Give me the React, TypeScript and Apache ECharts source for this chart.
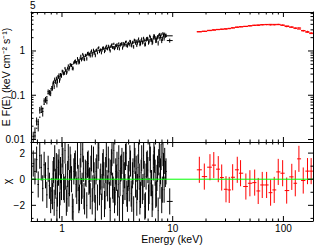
import React, { useEffect, useRef } from 'react';
import * as echarts from 'echarts';

// Axis ranges
const X_MIN = 0.525;
const X_MAX = 185;
const Y_MIN = 0.00878;
const Y_MAX = 7.6;
const CHI_MIN = -3.2;
const CHI_MAX = 2.85;
const CHI_ERR = 1; // delchi residual error bars are 1 sigma by definition

// Black (soft X-ray) spectrum, channel set A
const blackEnergyA = [
  0.55, 0.57, 0.59, 0.61, 0.63, 0.65, 0.67, 0.69, 0.71, 0.73, 0.75, 0.77, 0.79, 0.81, 0.83, 0.85, 0.87, 0.89, 0.91, 0.93, 0.95, 0.97, 0.99,
  1.02, 1.05, 1.08, 1.11, 1.14, 1.17, 1.2, 1.24, 1.28, 1.32, 1.36, 1.4, 1.44, 1.48, 1.52, 1.56, 1.6, 1.65, 1.7, 1.75, 1.8, 1.85, 1.9, 1.95, 2.0,
  2.06, 2.12, 2.18, 2.24, 2.3, 2.36, 2.42, 2.48, 2.55, 2.62, 2.69, 2.76, 2.83, 2.9, 2.98, 3.06, 3.14, 3.22, 3.3, 3.39, 3.48, 3.57, 3.66, 3.75, 3.85, 3.95,
  4.05, 4.16, 4.27, 4.38, 4.5, 4.62, 4.74, 4.86, 4.99, 5.12, 5.25, 5.39, 5.53, 5.67, 5.82, 5.97, 6.12, 6.28, 6.44, 6.6, 6.77, 6.94, 7.12, 7.3, 7.48, 7.67, 7.86, 8.06, 8.26, 8.47, 8.7,
  9.4,
];
const blackFluxA = [
  0.0118, 0.0145, 0.0261, 0.0222, 0.0464, 0.0491, 0.043, 0.0743, 0.0796, 0.0763, 0.12, 0.115, 0.112, 0.141, 0.184, 0.157, 0.202, 0.242, 0.208, 0.259, 0.215, 0.293, 0.274,
  0.345, 0.314, 0.366, 0.339, 0.466, 0.42, 0.488, 0.408, 0.545, 0.603, 0.538, 0.615, 0.568, 0.772, 0.672, 0.777, 0.648, 0.805, 0.881, 0.827, 0.78, 1.015, 0.878, 0.973, 0.799,
  1.063, 1.149, 0.967, 1.075, 1.035, 1.2, 0.971, 1.196, 1.136, 1.304, 1.099, 1.263, 1.414, 1.18, 1.128, 1.344, 1.411, 1.283, 1.124, 1.426, 1.504, 1.302, 1.429, 1.589, 1.32, 1.46,
  1.388, 1.633, 1.32, 1.593, 1.774, 1.51, 1.352, 1.715, 1.646, 1.473, 1.886, 1.594, 1.758, 1.428, 1.912, 1.871, 1.636, 2.043, 1.781, 1.617, 2.243, 1.99, 1.719, 2.098, 2.213, 1.9, 2.363, 1.886, 2.288, 2.394, 2.258,
  1.72,
];
const blackFluxErrA = [
  0.0032, 0.0042, 0.0054, 0.007, 0.008, 0.009, 0.01, 0.0112, 0.0122, 0.014, 0.0151, 0.016, 0.0167, 0.0172, 0.0194, 0.0192, 0.0206, 0.022, 0.0234, 0.0223, 0.0236, 0.0248, 0.0261,
  0.0248, 0.0268, 0.0288, 0.0308, 0.0328, 0.0344, 0.0364, 0.0392, 0.0416, 0.044, 0.0464, 0.0488, 0.0512, 0.0536, 0.056, 0.0584, 0.06, 0.0624, 0.0648, 0.0672, 0.0696, 0.072, 0.0744, 0.076, 0.0776,
  0.07, 0.0714, 0.0728, 0.0742, 0.0756, 0.077, 0.0784, 0.0798, 0.0812, 0.0826, 0.084, 0.0854, 0.0868, 0.0875, 0.0889, 0.0903, 0.0917, 0.0924, 0.0938, 0.0945, 0.0959, 0.0973, 0.098, 0.0994, 0.1, 0.1015,
  0.118, 0.119, 0.12, 0.122, 0.123, 0.125, 0.126, 0.128, 0.13, 0.139, 0.141, 0.143, 0.145, 0.146, 0.157, 0.158, 0.16, 0.162, 0.165, 0.167, 0.178, 0.18, 0.182, 0.185, 0.187, 0.2, 0.202, 0.205, 0.208, 0.21, 0.213,
  0.18,
];
const blackModelA = [
  0.008, 0.012, 0.018, 0.025, 0.032, 0.041, 0.05, 0.062, 0.076, 0.093, 0.108, 0.123, 0.139, 0.156, 0.176, 0.192, 0.206, 0.22, 0.234, 0.248, 0.262, 0.276, 0.29,
  0.31, 0.335, 0.36, 0.385, 0.41, 0.43, 0.455, 0.49, 0.52, 0.55, 0.58, 0.61, 0.64, 0.67, 0.7, 0.73, 0.75, 0.78, 0.81, 0.84, 0.87, 0.9, 0.93, 0.95, 0.97,
  1.0, 1.02, 1.04, 1.06, 1.08, 1.1, 1.12, 1.14, 1.16, 1.18, 1.2, 1.22, 1.24, 1.25, 1.27, 1.29, 1.31, 1.32, 1.34, 1.35, 1.37, 1.39, 1.4, 1.42, 1.43, 1.45,
  1.47, 1.49, 1.5, 1.52, 1.54, 1.56, 1.58, 1.6, 1.62, 1.64, 1.66, 1.68, 1.7, 1.72, 1.74, 1.76, 1.78, 1.8, 1.83, 1.85, 1.87, 1.9, 1.92, 1.95, 1.97, 2.0, 2.02, 2.05, 2.08, 2.1, 2.13,
  2.2,
];
const blackChiA = [
  1.2, 0.6, 1.5, -0.4, 1.8, 0.9, -0.7, 1.1, 0.3, -1.2, 0.8, -0.5, -1.6, -0.9, 0.4, -1.8, -0.2, 1.0, -1.1, 0.5, -2.0, 0.7, -0.6,
  1.4, -0.8, 0.2, -1.5, 1.7, -0.3, 0.9, -2.1, 0.6, 1.2, -0.9, 0.1, -1.4, 1.9, -0.5, 0.8, -1.7, 0.4, 1.1, -0.2, -1.3, 1.6, -0.7, 0.3, -2.2,
  0.9, 1.8, -1.0, 0.2, -0.6, 1.3, -1.9, 0.7, -0.3, 1.5, -1.2, 0.5, 2.0, -0.8, -1.6, 0.6, 1.1, -0.4, -2.3, 0.8, 1.4, -0.9, 0.3, 1.7, -1.1, 0.1,
  -0.7, 1.2, -1.5, 0.6, 1.9, -0.4, -1.8, 0.9, 0.2, -1.2, 1.6, -0.6, 0.4, -2.0, 1.1, 0.7, -0.9, 1.5, -0.3, -1.4, 2.1, 0.5, -1.1, 0.8, 1.3, -0.5, 1.7, -0.8, 1.0, 1.4, 0.6,
  -1.7,
];

// Black spectrum, channel set B (interleaved channels above 0.8 keV)
const blackEnergyB = [
  0.82, 0.84, 0.86, 0.88, 0.9, 0.92, 0.94, 0.96, 0.98, 1.005,
  1.035, 1.065, 1.095, 1.125, 1.155, 1.185, 1.22, 1.26, 1.3, 1.34, 1.38, 1.42, 1.46, 1.5, 1.54, 1.58, 1.625, 1.675, 1.725, 1.775, 1.825, 1.875, 1.925, 1.975, 2.03,
  2.09, 2.15, 2.21, 2.27, 2.33, 2.39, 2.45, 2.515, 2.585, 2.655, 2.725, 2.795, 2.865, 2.94, 3.02, 3.1, 3.18, 3.26, 3.345, 3.435, 3.525, 3.615, 3.705, 3.8, 3.9, 4.0,
  4.105, 4.215, 4.325, 4.44, 4.56, 4.68, 4.8, 4.925, 5.055, 5.185, 5.32, 5.46, 5.6, 5.745, 5.895, 6.045, 6.2, 6.36, 6.52, 6.685, 6.855, 7.03, 7.21, 7.39, 7.575, 7.765, 7.96, 8.16, 8.365, 8.585,
];
const blackFluxB = [
  0.1444, 0.1969, 0.2308, 0.2024, 0.1725, 0.2627, 0.2882, 0.2421, 0.2887, 0.3513,
  0.3065, 0.4081, 0.3184, 0.4097, 0.383, 0.495, 0.472, 0.404, 0.5778, 0.5469, 0.6807, 0.545, 0.6864, 0.6357, 0.8466, 0.663, 0.7956, 0.6678, 0.9042, 0.8482, 0.9416, 0.7906, 1.0528, 0.8986, 1.0293,
  0.911, 1.203, 1.0353, 0.9127, 1.1663, 1.1333, 1.0272, 1.303, 1.1127, 1.24, 1.0067, 1.3419, 1.2014, 1.454, 1.1904, 1.3091, 1.1493, 1.479, 1.3168, 1.4457, 1.1675, 1.5024, 1.3508, 1.6245, 1.2888, 1.5038,
  1.6694, 1.3634, 1.5462, 1.2485, 1.7236, 1.6705, 1.5137, 1.8934, 1.4083, 1.7201, 1.5422, 1.9486, 1.4048, 1.7611, 1.939, 1.547, 2.1766, 1.766, 1.5254, 2.019, 2.1536, 1.6923, 1.9534, 1.5131, 2.3622, 2.1306, 1.7094, 2.478, 1.9228, 2.1996,
];
const blackFluxErrB = [
  0.0166, 0.0184, 0.0199, 0.0213, 0.0227, 0.0241, 0.0255, 0.0269, 0.0283, 0.027,
  0.0258, 0.0278, 0.0298, 0.0318, 0.0336, 0.0354, 0.0378, 0.0404, 0.0428, 0.0452, 0.0476, 0.05, 0.0524, 0.0548, 0.0572, 0.0592, 0.0612, 0.0636, 0.066, 0.0684, 0.0708, 0.0732, 0.0752, 0.0768, 0.0739,
  0.0707, 0.0721, 0.0735, 0.0749, 0.0763, 0.0777, 0.0791, 0.0805, 0.0819, 0.0833, 0.0847, 0.0861, 0.0872, 0.0882, 0.0896, 0.091, 0.0921, 0.0931, 0.0942, 0.0952, 0.0966, 0.0977, 0.0987, 0.0998, 0.1008, 0.1095,
  0.1184, 0.1196, 0.1208, 0.1224, 0.124, 0.1256, 0.1272, 0.1288, 0.1304, 0.1403, 0.142, 0.1437, 0.1454, 0.1557, 0.1575, 0.1593, 0.1611, 0.1634, 0.1656, 0.1767, 0.1791, 0.1815, 0.1838, 0.1862, 0.1985, 0.201, 0.2035, 0.2065, 0.209, 0.2115,
];
const blackModelB = [
  0.166, 0.184, 0.199, 0.213, 0.227, 0.241, 0.255, 0.269, 0.283, 0.3,
  0.322, 0.347, 0.372, 0.397, 0.42, 0.442, 0.472, 0.505, 0.535, 0.565, 0.595, 0.625, 0.655, 0.685, 0.715, 0.74, 0.765, 0.795, 0.825, 0.855, 0.885, 0.915, 0.94, 0.96, 0.985,
  1.01, 1.03, 1.05, 1.07, 1.09, 1.11, 1.13, 1.15, 1.17, 1.19, 1.21, 1.23, 1.245, 1.26, 1.28, 1.3, 1.315, 1.33, 1.345, 1.36, 1.38, 1.395, 1.41, 1.425, 1.44, 1.46,
  1.48, 1.495, 1.51, 1.53, 1.55, 1.57, 1.59, 1.61, 1.63, 1.65, 1.67, 1.69, 1.71, 1.73, 1.75, 1.77, 1.79, 1.815, 1.84, 1.86, 1.885, 1.91, 1.935, 1.96, 1.985, 2.01, 2.035, 2.065, 2.09, 2.115,
];
const blackChiB = [
  -1.3, 0.7, 1.6, -0.5, -2.4, 0.9, 1.3, -1.0, 0.2, 1.9,
  -0.6, 2.2, -1.8, 0.4, -1.1, 1.5, 0.0, -2.5, 1.0, -0.4, 1.8, -1.6, 0.6, -0.9, 2.3, -1.3, 0.5, -2.0, 1.2, -0.1, 0.8, -1.7, 1.5, -0.8, 0.6,
  -1.4, 2.4, -0.2, -2.1, 1.0, 0.3, -1.3, 1.9, -0.7, 0.6, -2.4, 1.3, -0.5, 2.2, -1.0, 0.1, -1.8, 1.6, -0.3, 0.9, -2.2, 1.1, -0.6, 2.0, -1.5, 0.4,
  1.6, -1.1, 0.3, -2.3, 1.4, 0.8, -0.6, 2.2, -1.7, 0.5, -0.9, 1.8, -2.1, 0.2, 1.2, -1.4, 2.4, -0.3, -1.9, 0.9, 1.5, -1.2, 0.1, -2.4, 1.9, 0.6, -1.6, 2.0, -0.8, 0.4,
];
const blackLastBin = [8.85, 10.0]; // edges of the wide final black bin (9.4 keV)

// Red (hard X-ray) spectrum
const redEnergy = [17.4, 19.3, 21.7, 23.5, 25.8, 27.7, 30.3, 32.4, 34.8, 38.3, 41.0, 45.8, 49.8, 55.0, 59.2, 64.4, 70.5, 76.6, 82.6, 89.8, 98.4, 107, 119, 128, 138, 151, 165, 178];
const redFlux = [2.739, 2.791, 2.933, 3.014, 3.077, 3.108, 3.126, 3.191, 3.331, 3.474, 3.535, 3.569, 3.691, 3.795, 3.793, 3.897, 3.931, 3.885, 3.898, 3.996, 3.852, 3.568, 3.472, 3.259, 3.315, 2.867, 2.732, 2.547];
const redFluxErr = [0.054, 0.056, 0.058, 0.059, 0.061, 0.062, 0.07, 0.072, 0.073, 0.075, 0.077, 0.09, 0.093, 0.096, 0.097, 0.099, 0.111, 0.112, 0.112, 0.118, 0.114, 0.129, 0.121, 0.132, 0.125, 0.13, 0.133, 0.124];
const redModel = [2.7, 2.78, 2.88, 2.95, 3.03, 3.1, 3.18, 3.25, 3.32, 3.42, 3.5, 3.62, 3.72, 3.82, 3.88, 3.94, 3.98, 4.0, 3.99, 3.93, 3.8, 3.68, 3.45, 3.3, 3.12, 2.88, 2.65, 2.47];
const redChi = [0.72, 0.2, 0.92, 1.08, 0.77, 0.13, -0.77, -0.82, 0.15, 0.72, 0.46, -0.56, -0.31, -0.26, -0.9, -0.44, -0.44, -1.03, -0.82, 0.56, 0.46, -0.87, 0.18, -0.31, 1.56, -0.1, 0.62, 0.62];

// Ticks and labels
const xMajorTicks = [1, 10, 100];
const xTickLabels = ['1', '10', '100'];
const xMinorTicks = [0.6, 0.7, 0.8, 0.9, 2, 3, 4, 5, 6, 7, 8, 9, 20, 30, 40, 50, 60, 70, 80, 90];
const yMajorTicksTop = [0.01, 0.1, 1];
const yTickLabelsTop = ['0.01', '0.1', '1'];
const yMinorTicksTop = [0.02, 0.03, 0.04, 0.05, 0.06, 0.07, 0.08, 0.09, 0.2, 0.3, 0.4, 0.5, 0.6, 0.7, 0.8, 0.9, 2, 3, 4, 5, 6, 7];
const chiMajorTicks = [-2, 0, 2];
const chiTickLabels = ['\u22122', '0', '2'];
const chiMinorTicks = [-3, -1, 1];

const FONT = 'Liberation Sans, Arial, Helvetica, sans-serif';

// merge the two black channel sets, ordered by energy
type Chan = { e: number; f: number; fe: number; m: number; c: number };
const blackChannels: Chan[] = [
  ...blackEnergyA.map((e, i) => ({ e, f: blackFluxA[i], fe: blackFluxErrA[i], m: blackModelA[i], c: blackChiA[i] })),
  ...blackEnergyB.map((e, i) => ({ e, f: blackFluxB[i], fe: blackFluxErrB[i], m: blackModelB[i], c: blackChiB[i] })),
].sort((a, b) => a.e - b.e);

function binEdges(E: number[]): number[][] {
  return E.map((e, i) => {
    const lo = i > 0 ? Math.sqrt(E[i - 1] * e) : (e * e) / Math.sqrt(e * E[i + 1]);
    const hi = i < E.length - 1 ? Math.sqrt(e * E[i + 1]) : (e * e) / Math.sqrt(E[i - 1] * e);
    return [lo, hi];
  });
}

const blackEdges = binEdges(blackChannels.map((c) => c.e));
blackEdges[blackEdges.length - 1] = [blackLastBin[0], blackLastBin[1]];
blackEdges[blackEdges.length - 2][1] = blackLastBin[0];
const redEdges = binEdges(redEnergy);

const blackTopData = blackChannels.map((c, i) => [c.e, c.f, blackEdges[i][0], blackEdges[i][1], c.f - c.fe, c.f + c.fe, c.m]);
const redTopData = redEnergy.map((e, i) => [e, redFlux[i], redEdges[i][0], redEdges[i][1], redFlux[i] - redFluxErr[i], redFlux[i] + redFluxErr[i], redModel[i]]);
const blackResData = blackChannels.map((c, i) => [c.e, c.c, blackEdges[i][0], blackEdges[i][1], c.c - CHI_ERR, c.c + CHI_ERR]);
const redResData = redEnergy.map((e, i) => [e, redChi[i], redEdges[i][0], redEdges[i][1], redChi[i] - CHI_ERR, redChi[i] + CHI_ERR]);

const ticksTop = [
  ...xMinorTicks.map((v) => [v, 1, 0]),
  ...xMajorTicks.map((v) => [v, 1, 1]),
  ...yMinorTicksTop.map((v) => [1, v, 2]),
  ...yMajorTicksTop.map((v) => [1, v, 3]),
];
const ticksRes = [
  ...xMinorTicks.map((v) => [v, 0, 0]),
  ...xMajorTicks.map((v) => [v, 0, 1]),
  ...chiMinorTicks.map((v) => [1, v, 2]),
  ...chiMajorTicks.map((v) => [1, v, 3]),
];

function labelFor(values: number[], labels: string[]) {
  return (v: number) => {
    for (let i = 0; i < values.length; i++) {
      const ref = values[i];
      const tol = ref === 0 ? 1e-9 : Math.abs(ref) * 1e-6;
      if (Math.abs(v - ref) <= tol) return labels[i];
    }
    return '';
  };
}

function makeErrRenderer(color: string) {
  return (params: any, api: any) => {
    const cs = params.coordSys;
    const top = cs.y;
    const bot = cs.y + cs.height;
    const left = cs.x;
    const right = cs.x + cs.width;
    const cy = (v: number) => Math.max(top, Math.min(bot, v));
    const cx = (v: number) => Math.max(left, Math.min(right, v));
    const e = api.value(0);
    const v = api.value(1);
    const pc = api.coord([e, v]);
    const pl = api.coord([api.value(2), v]);
    const pr = api.coord([api.value(3), v]);
    const pb = api.coord([e, api.value(4)]);
    const pt = api.coord([e, api.value(5)]);
    const style = { stroke: color, lineWidth: 1, fill: null };
    const children: any[] = [];
    if (pc[1] >= top && pc[1] <= bot) {
      children.push({ type: 'line', shape: { x1: cx(pl[0]), y1: pc[1], x2: cx(pr[0]), y2: pc[1] }, style });
    }
    children.push({ type: 'line', shape: { x1: pc[0], y1: cy(pb[1]), x2: pc[0], y2: cy(pt[1]) }, style });
    const m = api.value(6);
    if (typeof m === 'number' && !isNaN(m) && m > 0) {
      const ml = api.coord([api.value(2), m]);
      const mr = api.coord([api.value(3), m]);
      if (ml[1] >= top && ml[1] <= bot) {
        children.push({ type: 'line', shape: { x1: cx(ml[0]), y1: ml[1], x2: cx(mr[0]), y2: mr[1] }, style });
      }
    }
    return { type: 'group', children };
  };
}

const tickRenderer = (params: any, api: any) => {
  const cs = params.coordSys;
  const kind = api.value(2);
  const p = api.coord([api.value(0), api.value(1)]);
  const len = kind % 2 === 1 ? 5 : 2.5;
  const style = { stroke: '#000', lineWidth: 1 };
  if (kind < 2) {
    const x = p[0];
    const b = cs.y + cs.height;
    return {
      type: 'group',
      children: [
        { type: 'line', shape: { x1: x, y1: b, x2: x, y2: b - len }, style },
        { type: 'line', shape: { x1: x, y1: cs.y, x2: x, y2: cs.y + len }, style },
      ],
    };
  }
  const y = p[1];
  const r = cs.x + cs.width;
  return {
    type: 'group',
    children: [
      { type: 'line', shape: { x1: cs.x, y1: y, x2: cs.x + len, y2: y }, style },
      { type: 'line', shape: { x1: r, y1: y, x2: r - len, y2: y }, style },
    ],
  };
};

const axisLineStyle = { show: true, onZero: false, lineStyle: { color: '#000', width: 1 } };

function makeXAxis(gridIndex: number, position: string, showLabels: boolean, name?: string) {
  return {
    type: 'log',
    logBase: 10,
    gridIndex,
    position,
    min: X_MIN,
    max: X_MAX,
    axisLine: axisLineStyle,
    axisTick: { show: false },
    minorTick: { show: false },
    splitLine: { show: false },
    minorSplitLine: { show: false },
    name: name || '',
    nameLocation: 'middle',
    nameGap: 12,
    nameMoveOverlap: false,
    nameTextStyle: { color: '#000', fontFamily: FONT, fontSize: 10.5, lineHeight: 11 },
    axisLabel: showLabels
      ? {
          show: true,
          color: '#000',
          fontFamily: FONT,
          fontSize: 10,
          lineHeight: 10,
          margin: 2,
          showMinLabel: false,
          showMaxLabel: false,
          formatter: labelFor(xMajorTicks, xTickLabels),
        }
      : { show: false },
  };
}

const option: any = {
  animation: false,
  backgroundColor: '#fff',
  graphic: [
    {
      type: 'text',
      left: 30,
      top: 0,
      style: { text: '5', fill: '#000', font: `10px ${FONT}` },
    },
  ],
  grid: [
    { left: 31, top: 12, width: 282, height: 130, containLabel: false, outerBoundsMode: 'none' },
    { left: 31, top: 142, width: 282, height: 79, containLabel: false, outerBoundsMode: 'none' },
  ],
  xAxis: [
    makeXAxis(0, 'bottom', false),
    makeXAxis(0, 'top', false),
    makeXAxis(1, 'bottom', true, 'Energy (keV)'),
    makeXAxis(1, 'top', false),
  ],
  yAxis: [
    {
      type: 'log',
      logBase: 10,
      gridIndex: 0,
      position: 'left',
      min: Y_MIN,
      max: Y_MAX,
      axisLine: axisLineStyle,
      axisTick: { show: false },
      minorTick: { show: false },
      splitLine: { show: false },
      name: 'E F(E) (keV cm\u207B\u00B2 s\u207B\u00B9)',
      nameLocation: 'middle',
      nameRotate: 90,
      nameGap: 20,
      nameMoveOverlap: false,
      nameTextStyle: { color: '#000', fontFamily: FONT, fontSize: 10.5 },
      axisLabel: {
        color: '#000',
        fontFamily: FONT,
        fontSize: 10,
        margin: 6,
        showMinLabel: false,
        showMaxLabel: false,
        formatter: labelFor(yMajorTicksTop, yTickLabelsTop),
      },
    },
    {
      type: 'log',
      logBase: 10,
      gridIndex: 0,
      position: 'right',
      min: Y_MIN,
      max: Y_MAX,
      axisLine: axisLineStyle,
      axisTick: { show: false },
      splitLine: { show: false },
      axisLabel: { show: false },
    },
    {
      type: 'value',
      gridIndex: 1,
      position: 'left',
      min: CHI_MIN,
      max: CHI_MAX,
      splitNumber: 3,
      axisLine: axisLineStyle,
      axisTick: { show: false },
      splitLine: { show: false },
      name: '\u03C7',
      nameLocation: 'middle',
      nameRotate: 90,
      nameGap: 19,
      nameMoveOverlap: false,
      nameTextStyle: { color: '#000', fontFamily: FONT, fontSize: 10.5 },
      axisLabel: {
        color: '#000',
        fontFamily: FONT,
        fontSize: 10,
        margin: 6,
        showMinLabel: false,
        showMaxLabel: false,
        formatter: labelFor(chiMajorTicks, chiTickLabels),
      },
    },
    {
      type: 'value',
      gridIndex: 1,
      position: 'right',
      min: CHI_MIN,
      max: CHI_MAX,
      axisLine: axisLineStyle,
      axisTick: { show: false },
      splitLine: { show: false },
      axisLabel: { show: false },
    },
  ],
  series: [
    { type: 'custom', name: 'black data', xAxisIndex: 0, yAxisIndex: 0, silent: true, renderItem: makeErrRenderer('#000'), data: blackTopData, z: 3 },
    { type: 'custom', name: 'red data', xAxisIndex: 0, yAxisIndex: 0, silent: true, renderItem: makeErrRenderer('#ff0000'), data: redTopData, z: 3 },
    { type: 'custom', name: 'black residuals', xAxisIndex: 2, yAxisIndex: 2, silent: true, renderItem: makeErrRenderer('#000'), data: blackResData, z: 3 },
    { type: 'custom', name: 'red residuals', xAxisIndex: 2, yAxisIndex: 2, silent: true, renderItem: makeErrRenderer('#ff0000'), data: redResData, z: 3 },
    {
      type: 'line',
      name: 'zero',
      xAxisIndex: 2,
      yAxisIndex: 2,
      silent: true,
      symbol: 'none',
      data: [
        [X_MIN, 0],
        [X_MAX, 0],
      ],
      lineStyle: { color: '#00ff00', width: 1 },
      z: 8,
    },
    { type: 'custom', name: 'ticks top', xAxisIndex: 0, yAxisIndex: 0, silent: true, renderItem: tickRenderer, data: ticksTop, z: 9 },
    { type: 'custom', name: 'ticks res', xAxisIndex: 2, yAxisIndex: 2, silent: true, renderItem: tickRenderer, data: ticksRes, z: 9 },
  ],
};

export default function App() {
  const ref = useRef<HTMLDivElement>(null);
  useEffect(() => {
    if (!ref.current) return;
    const chart = echarts.init(ref.current, null, { renderer: 'svg' });
    chart.setOption(option);
    return () => {
      chart.dispose();
    };
  }, []);
  return <div ref={ref} style={{ position: 'fixed', left: 0, top: 0, width: 314, height: 245 }} />;
}
